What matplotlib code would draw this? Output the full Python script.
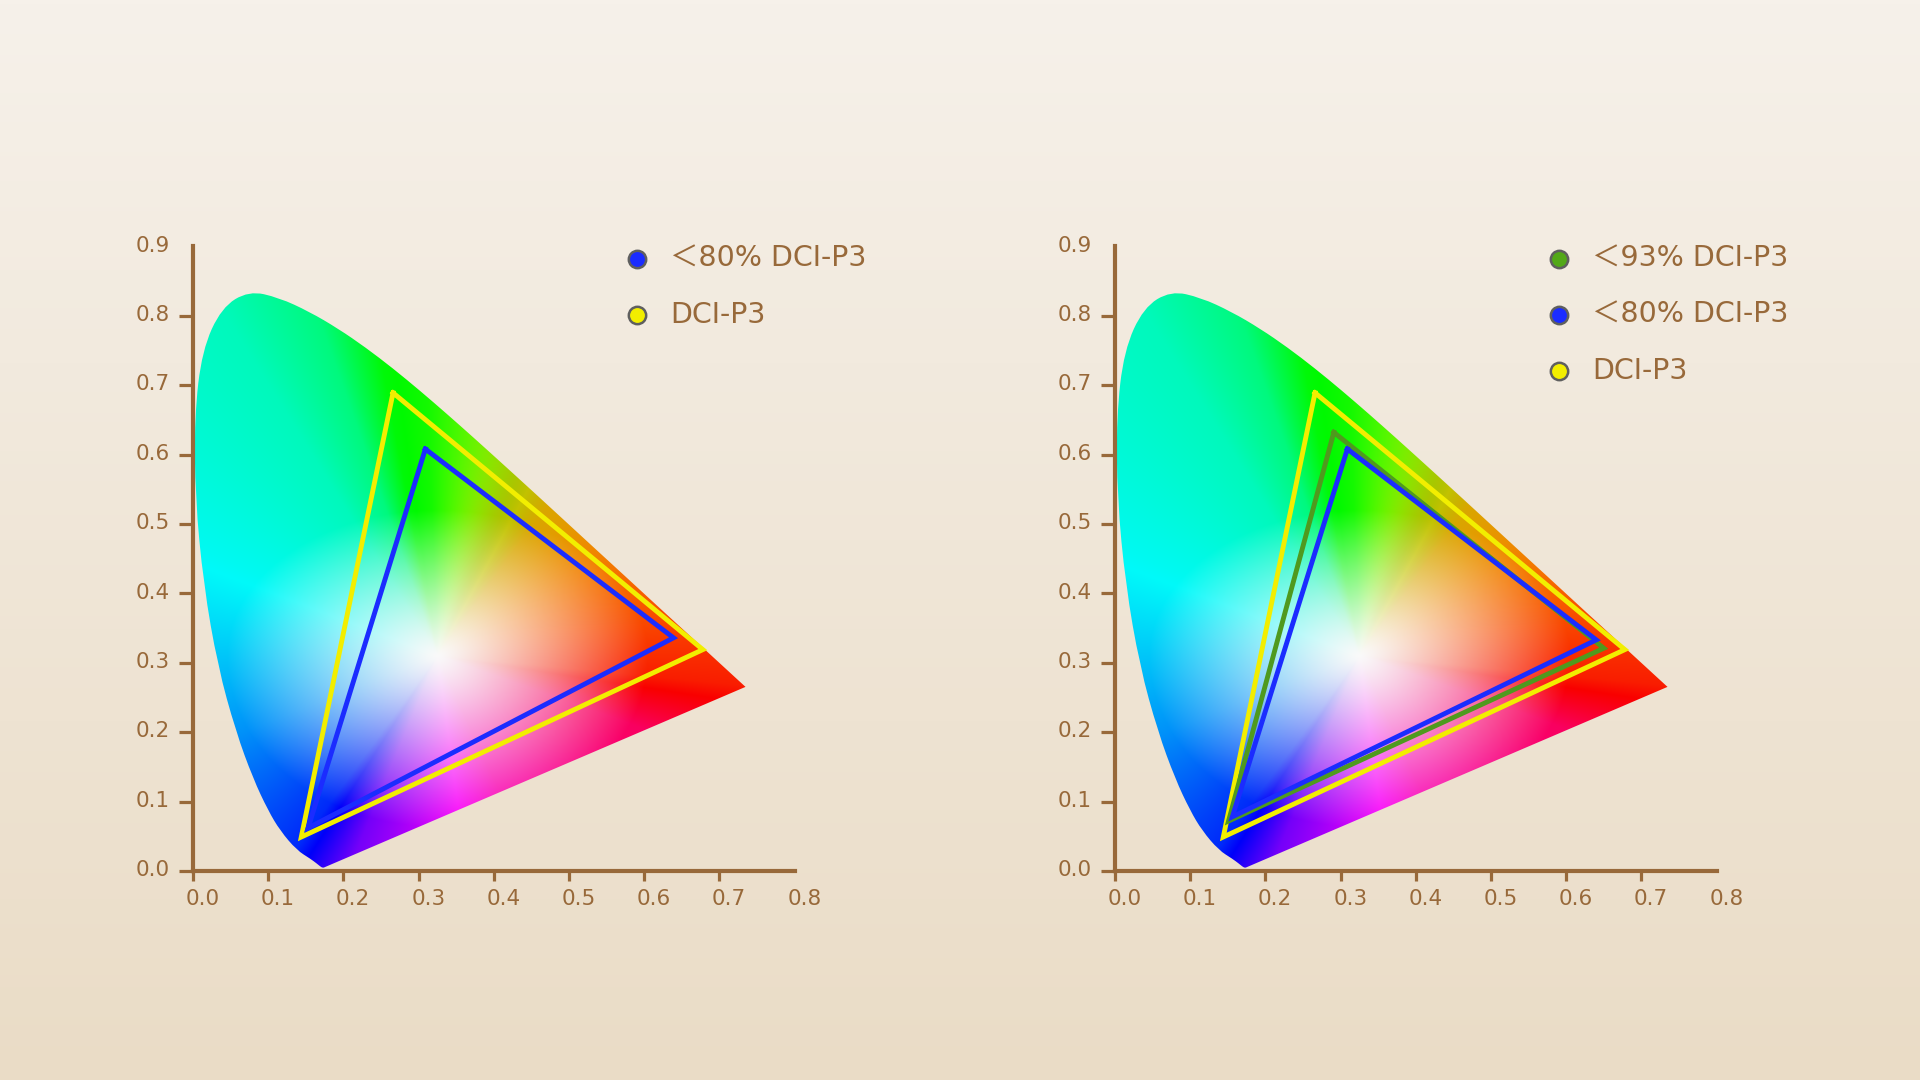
import numpy as np
import matplotlib.pyplot as plt
from matplotlib.path import Path
from matplotlib.patches import PathPatch
from matplotlib.colors import hsv_to_rgb
from matplotlib.transforms import ScaledTranslation

# Contorno da ferradura (locus espectral), de 380 nm a 700 nm
locus_x = [0.1741, 0.1733, 0.1714, 0.1689, 0.1644, 0.1560, 0.1380, 0.1160,
           0.1000, 0.0800, 0.0570, 0.0330, 0.0140, 0.0030, 0.0020, 0.0120,
           0.0380, 0.0743, 0.1142, 0.1547, 0.1929, 0.2296, 0.2658, 0.3016,
           0.3373, 0.3731, 0.4087, 0.4441, 0.4788, 0.5125, 0.5448, 0.5752,
           0.6029, 0.6270, 0.6658, 0.6915, 0.7079, 0.7190, 0.7300, 0.7347]
locus_y = [0.0050, 0.0048, 0.0051, 0.0069, 0.0109, 0.0177, 0.0300, 0.0580,
           0.0870, 0.1330, 0.2010, 0.2950, 0.4130, 0.5380, 0.6550, 0.7500,
           0.8120, 0.8360, 0.8262, 0.8059, 0.7816, 0.7543, 0.7243, 0.6923,
           0.6589, 0.6245, 0.5896, 0.5547, 0.5202, 0.4866, 0.4544, 0.4242,
           0.3965, 0.3725, 0.3340, 0.3083, 0.2920, 0.2809, 0.2700, 0.2653]

ticks_x = [0.0, 0.1, 0.2, 0.3, 0.4, 0.5, 0.6, 0.7, 0.8]
ticks_y = [0.0, 0.1, 0.2, 0.3, 0.4, 0.5, 0.6, 0.7, 0.8, 0.9]

# Triângulos de gamut (vértices verde, vermelho, azul)
dci_p3_x = [0.266, 0.678, 0.144]
dci_p3_y = [0.689, 0.319, 0.049]
p80_esq_x = [0.309, 0.639, 0.153]
p80_esq_y = [0.608, 0.336, 0.062]
p93_dir_x = [0.291, 0.650, 0.151]
p93_dir_y = [0.632, 0.321, 0.072]
p80_dir_x = [0.309, 0.640, 0.156]
p80_dir_y = [0.608, 0.333, 0.078]

rotulos_esq = ["＜80% DCI-P3", "DCI-P3"]
rotulos_dir = ["＜93% DCI-P3", "＜80% DCI-P3", "DCI-P3"]

MARROM = "#98693a"
AMARELO = "#f2ee00"
AZUL = "#1b2cff"
VERDE = "#4f9a1e"
FONTE = ["DejaVu Sans", "Noto Sans CJK SC"]

# Mapa ângulo (em torno do branco) -> matiz, para imitar o degradê
ANG = [-6, 12, 56, 92, 100, 108, 120, 154, 203, 236, 249, 293, 339, 354, 372]
MATIZ = [7, 19, 46, 115, 122, 150, 165, 178, 205, 230, 268, 318, 337, 367,
         379]


def campo_de_cores(n=700):
    """
    Gera a imagem RGB estilizada do diagrama de cromaticidade.
    """
    xs = np.linspace(0, 0.8, n)
    ys = np.linspace(0, 0.9, n)
    x, y = np.meshgrid(xs, ys)
    dx, dy = x - 0.325, y - 0.31
    ang = np.degrees(np.arctan2(dy, dx)) % 360
    h = (np.interp(ang, ANG, MATIZ) % 360) / 360
    d = np.hypot(dx * 0.75, dy * np.where(dy < 0, 0.85, 1.0))
    s = np.clip(d / 0.21, 0, 1) ** 1.2
    hg = h * 360
    v = 0.98 - 0.22 * np.exp(-((hg - 62) / 22) ** 2) * s
    return hsv_to_rgb(np.stack([h, s, v], axis=-1))


def caminho_suave():
    """
    Contorno da ferradura com curvas quadráticas entre os pontos do locus.
    """
    pts = np.column_stack([locus_x, locus_y])
    verts = [pts[0]]
    codes = [Path.MOVETO]
    for i in range(1, len(pts) - 1):
        verts += [pts[i], (pts[i] + pts[i + 1]) / 2]
        codes += [Path.CURVE3, Path.CURVE3]
    verts += [pts[-1], pts[0]]
    codes += [Path.LINETO, Path.CLOSEPOLY]
    return Path(verts, codes)


def desenhar_painel(ax, triangulos, rotulos, cores_legenda):
    """
    Desenha um painel: ferradura colorida, triângulos e legenda.
    """
    ax.set_xlim(0, 0.8)
    ax.set_ylim(0, 0.9)
    ax.patch.set_alpha(0)

    contorno = PathPatch(caminho_suave(), facecolor="none",
                         edgecolor="none", transform=ax.transData)
    ax.add_patch(contorno)
    img = ax.imshow(campo_de_cores(), extent=[0, 0.8, 0, 0.9],
                    origin="lower", interpolation="bilinear",
                    aspect="auto", zorder=1)
    img.set_clip_path(contorno)

    for tx, ty, cor in triangulos:
        ax.plot(tx + tx[:1], ty + ty[:1], color=cor, lw=3.5,
                solid_joinstyle="miter", zorder=3)

    for i, (texto, cor) in enumerate(zip(rotulos, cores_legenda)):
        yy = 0.882 - i * 0.081
        ax.plot([0.591], [yy], "o", ms=12.5, mfc=cor, mec="#5f5f5f",
                mew=1.8, clip_on=False, zorder=4)
        ax.text(0.634, yy, texto, color=MARROM, fontsize=20.5,
                family=FONTE, va="center", ha="left")

    # Eixos
    for lado in ["top", "right"]:
        ax.spines[lado].set_visible(False)
    for lado in ["left", "bottom"]:
        ax.spines[lado].set_color(MARROM)
        ax.spines[lado].set_linewidth(3)
    ax.set_xticks(ticks_x)
    ax.set_yticks(ticks_y)
    ax.set_xticklabels([f"{v:.1f}" for v in ticks_x])
    ax.set_yticklabels([f"{v:.1f}" for v in ticks_y])
    ax.tick_params(axis="x", length=7, width=2.3, color=MARROM,
                   labelcolor=MARROM, labelsize=15.5, pad=6)
    ax.tick_params(axis="y", length=10, width=2.3, color=MARROM,
                   labelcolor=MARROM, labelsize=15.5, pad=7)
    ax.xaxis.get_major_ticks()[-1].tick1line.set_visible(False)
    ax.yaxis.get_major_ticks()[-1].tick1line.set_visible(False)
    fig = ax.figure
    for rot in ax.get_xticklabels():
        rot.set_family(FONTE)
        rot.set_transform(rot.get_transform() +
                          ScaledTranslation(7 / 72, 0, fig.dpi_scale_trans))
    for rot in ax.get_yticklabels():
        rot.set_family(FONTE)
        rot.set_transform(rot.get_transform() +
                          ScaledTranslation(0, 2 / 72, fig.dpi_scale_trans))


fig = plt.figure(figsize=(19.2, 10.8), dpi=100)

# Fundo em degradê
fundo = fig.add_axes([0, 0, 1, 1], zorder=-10)
topo = np.array([246, 241, 234]) / 255
base = np.array([234, 220, 198]) / 255
t = np.linspace(0, 1, 256)[:, None]
grad = topo + (base - topo) * t
fundo.imshow(grad[:, None, :], aspect="auto", extent=[0, 1, 0, 1])
fundo.axis("off")

W, H = 1920, 1080
ax_esq = fig.add_axes([193 / W, (H - 871) / H, 601.6 / W, 624.6 / H])
ax_dir = fig.add_axes([1115 / W, (H - 871) / H, 601.6 / W, 624.6 / H])

desenhar_painel(ax_esq,
                [(dci_p3_x, dci_p3_y, AMARELO),
                 (p80_esq_x, p80_esq_y, AZUL)],
                rotulos_esq, [AZUL, AMARELO])
desenhar_painel(ax_dir,
                [(dci_p3_x, dci_p3_y, AMARELO),
                 (p93_dir_x, p93_dir_y, VERDE),
                 (p80_dir_x, p80_dir_y, AZUL)],
                rotulos_dir, ["#52a818", AZUL, AMARELO])

fig.savefig("out.png", dpi=100)
